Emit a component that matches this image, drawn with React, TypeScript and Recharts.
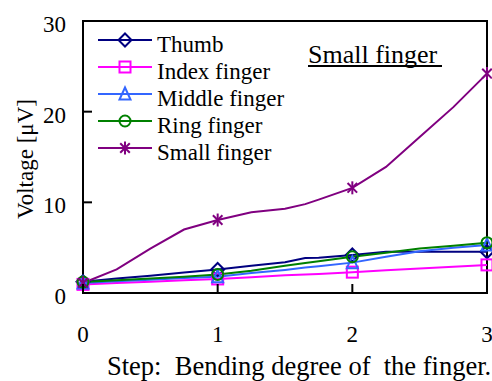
import { LineChart, Line, XAxis, YAxis, ReferenceArea } from "recharts";

const FONT = "Liberation Serif";

// bending step (x) where the curves were read
const steps = [0, 0.25, 0.5, 0.75, 1, 1.25, 1.5, 1.65, 1.75, 2, 2.25, 2.5, 2.75, 3];

const thumb = [1.25, 1.6, 1.9, 2.25, 2.6, 3.0, 3.4, 3.85, 3.9, 4.2, 4.55, 4.55, 4.55, 4.55];
const indexFinger = [0.95, 1.1, 1.25, 1.4, 1.55, 1.75, 1.95, 2.05, 2.1, 2.3, 2.5, 2.7, 2.9, 3.1];
const middleFinger = [1.1, 1.3, 1.45, 1.65, 1.8, 2.2, 2.55, 2.8, 2.95, 3.35, 4.0, 4.6, 5.0, 5.3];
const ringFinger = [1.2, 1.4, 1.6, 1.8, 2.05, 2.45, 3.0, 3.3, 3.5, 4.0, 4.45, 4.9, 5.2, 5.55];
const smallFinger = [1.1, 2.6, 4.9, 7.0, 8.05, 8.9, 9.3, 9.8, 10.3, 11.6, 13.9, 17.2, 20.5, 24.2];

const seriesNames = ["Thumb", "Index finger", "Middle finger", "Ring finger", "Small finger"];
const seriesKeys = ["thumb", "index", "middle", "ring", "small"];
const colors = ["#000080", "#ff00ff", "#3366ff", "#008000", "#800080"];
const shapes = ["diamond", "square", "triangle", "circle", "star"];

const xTicks = [0, 1, 2, 3];
const yTicks = [0, 10, 20, 30];

const xTitle = "Step:  Bending degree of  the finger.";
const yTitle = "Voltage [\u03bcV]";
const note = "Small finger";

const data = steps.map((step, i) => ({
  step,
  thumb: thumb[i],
  index: indexFinger[i],
  middle: middleFinger[i],
  ring: ringFinger[i],
  small: smallFinger[i],
}));

const Marker = ({ shape, x, y, color }: { shape: string; x: number; y: number; color: string }) => {
  const r = 5.5;
  const common = { fill: "none", stroke: color, strokeWidth: 2 };
  if (shape === "diamond")
    return <polygon points={`${x},${y - r - 1} ${x + r + 1},${y} ${x},${y + r + 1} ${x - r - 1},${y}`} {...common} />;
  if (shape === "square") return <rect x={x - r} y={y - r} width={2 * r} height={2 * r} {...common} />;
  if (shape === "triangle")
    return <polygon points={`${x},${y - r - 1} ${x + r},${y + r} ${x - r},${y + r}`} {...common} />;
  if (shape === "circle") return <circle cx={x} cy={y} r={r} {...common} />;
  const d = r * 0.87;
  return (
    <g stroke={color} strokeWidth={2}>
      <line x1={x} y1={y - r - 1} x2={x} y2={y + r + 1} />
      <line x1={x - d} y1={y - d} x2={x + d} y2={y + d} />
      <line x1={x - d} y1={y + d} x2={x + d} y2={y - d} />
    </g>
  );
};

// markers only at the whole steps, the line runs through every reading
const makeDot = (idx: number) => (props: any) => {
  const { cx, cy, payload, index } = props;
  if (!Number.isInteger(payload.step) || cx == null || cy == null) return <g key={`d-${idx}-${index}`} />;
  return (
    <g key={`d-${idx}-${index}`}>
      <Marker shape={shapes[idx]} x={cx} y={cy} color={colors[idx]} />
    </g>
  );
};

const YTick = ({ x, y, payload }: any) => (
  <g>
    <line x1={x} y1={y} x2={x + 9} y2={y} stroke="#000" strokeWidth={2} />
    <text x={x - 17} y={y} dy={11} textAnchor="end" fontSize={23} style={{ fontFamily: FONT }} fill="#000">
      {payload.value}
    </text>
  </g>
);

const XTick = ({ x, y, payload }: any) => (
  <g>
    <line x1={x} y1={y} x2={x} y2={y - 9} stroke="#000" strokeWidth={2} />
    <text x={x} y={y} dy={49} textAnchor="middle" fontSize={23} style={{ fontFamily: FONT }} fill="#000">
      {payload.value}
    </text>
  </g>
);

const Overlay = () => (
  <svg width={492} height={381} style={{ position: "absolute", left: 0, top: 0, pointerEvents: "none" }}>
    {seriesNames.map((name, i) => {
      const base = 52 + 27 * i;
      return (
        <g key={name}>
          <line x1={98} y1={base - 12} x2={152} y2={base - 12} stroke={colors[i]} strokeWidth={2} />
          <Marker shape={shapes[i]} x={125} y={base - 12} color={colors[i]} />
          <text x={157} y={base} fontSize={23} fill="#000" style={{ fontFamily: FONT }}>
            {name}
          </text>
        </g>
      );
    })}
    <text x={308} y={63} fontSize={26} fill="#000" style={{ fontFamily: FONT }}>
      {note}
    </text>
    <line x1={308} y1={66} x2={442} y2={66} stroke="#000" strokeWidth={2} />
    <text x={107} y={375} fontSize={26.5} fill="#000" style={{ fontFamily: FONT, whiteSpace: "pre" }}>
      {xTitle}
    </text>
    <text
      x={0}
      y={0}
      transform="translate(33,159) rotate(-90)"
      textAnchor="middle"
      fontSize={23}
      fill="#000"
      style={{ fontFamily: FONT }}
    >
      {yTitle}
    </text>
  </svg>
);

export default function App() {
  return (
    <div style={{ position: "absolute", left: 0, top: 0, width: 492, height: 381, background: "#fff" }}>
      <LineChart width={492} height={381} data={data} margin={{ top: 21, right: 5, left: 0, bottom: 0 }}>
        <XAxis
          dataKey="step"
          type="number"
          domain={[0, 3]}
          ticks={xTicks}
          axisLine={false}
          tickLine={false}
          tickSize={0}
          tickMargin={0}
          height={88}
          tick={<XTick />}
        />
        <YAxis
          type="number"
          domain={[0, 30]}
          ticks={yTicks}
          axisLine={false}
          tickLine={false}
          tickSize={0}
          tickMargin={0}
          width={83}
          tick={<YTick />}
        />
        <ReferenceArea x1={0} x2={3} y1={0} y2={30} fill="none" stroke="#000" strokeWidth={2} />
        {seriesKeys.map((key, i) => (
          <Line
            key={key}
            dataKey={key}
            name={seriesNames[i]}
            type="linear"
            stroke={colors[i]}
            strokeWidth={2}
            dot={makeDot(i)}
            activeDot={false}
            isAnimationActive={false}
          />
        ))}
      </LineChart>
      <Overlay />
    </div>
  );
}
